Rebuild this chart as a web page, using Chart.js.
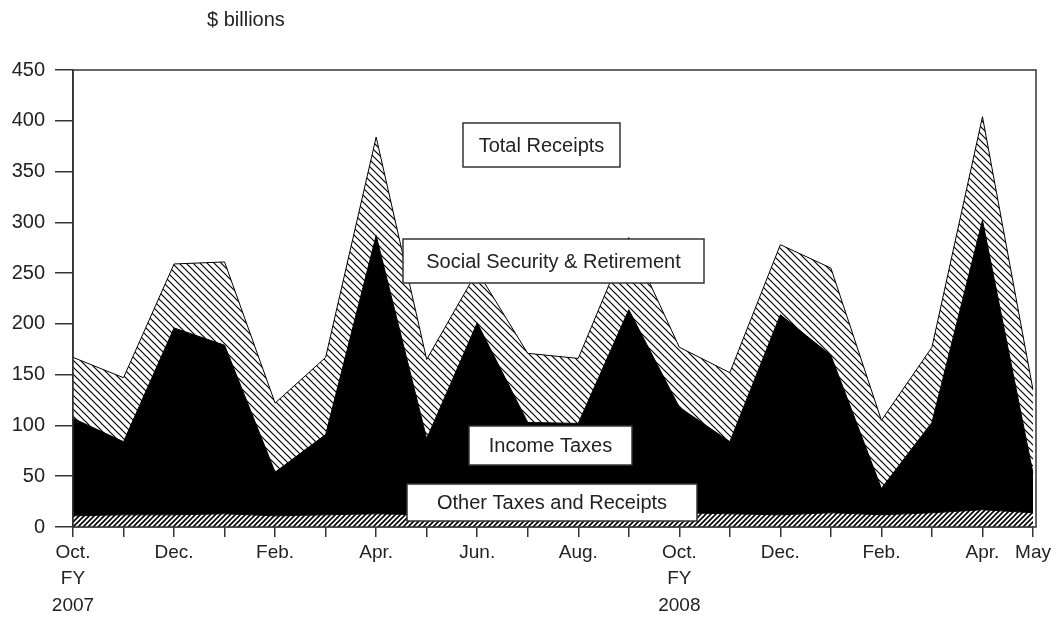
<!DOCTYPE html>
<html>
<head>
<meta charset="utf-8">
<script src="https://cdn.jsdelivr.net/npm/chart.js@4/dist/chart.umd.min.js"></script>
<style>
  html, body { margin: 0; padding: 0; background: #fff; }
  #wrap { width: 1059px; height: 618px; }
</style>
</head>
<body>
<div id="wrap"><canvas id="myChart" width="1059" height="618"></canvas></div>
<script>
// Oct 2006 (FY2007) .. May 2008, monthly
const months = ['Oct.', 'Nov.', 'Dec.', 'Jan.', 'Feb.', 'Mar.', 'Apr.', 'May', 'Jun.', 'Jul.', 'Aug.', 'Sep.',
                'Oct.', 'Nov.', 'Dec.', 'Jan.', 'Feb.', 'Mar.', 'Apr.', 'May'];
const tickLabels = [['Oct.', 'FY', '2007'], '', 'Dec.', '', 'Feb.', '', 'Apr.', '', 'Jun.', '', 'Aug.', '',
                    ['Oct.', 'FY', '2008'], '', 'Dec.', '', 'Feb.', '', 'Apr.', 'May'];
// $ billions, stacked from the bottom up
const otherTaxes = [11, 12, 12, 13, 11, 12, 13, 12, 13, 13, 13, 13, 14, 13, 12, 14, 12, 14, 17, 14];
const incomeTaxes = [96, 72, 184, 166, 43, 79, 274, 75, 188, 90, 89, 201, 104, 71, 197, 155, 26, 89, 285, 39];
const socialSecurity = [60, 63, 63, 82, 68, 76, 97, 78, 51, 68, 64, 71, 59, 68, 69, 86, 67, 74, 102, 82];
const yTicks = [0, 50, 100, 150, 200, 250, 300, 350, 400, 450];

function hatch(size, dir, width) {
    const c = document.createElement('canvas');
    c.width = size; c.height = size;
    const g = c.getContext('2d');
    g.fillStyle = '#fff';
    g.fillRect(0, 0, size, size);
    g.strokeStyle = '#000';
    g.lineWidth = width;
    g.beginPath();
    if (dir === 'back') {
        g.moveTo(-1, -1); g.lineTo(size + 1, size + 1);
        g.moveTo(-1, size - 1); g.lineTo(1, size + 1);
        g.moveTo(size - 1, -1); g.lineTo(size + 1, 1);
    } else {
        g.moveTo(-1, size + 1); g.lineTo(size + 1, -1);
        g.moveTo(-1, 1); g.lineTo(1, -1);
        g.moveTo(size - 1, size + 1); g.lineTo(size + 1, size - 1);
    }
    g.stroke();
    return g.createPattern(c, 'repeat');
}

const font = 'Liberation Sans, Arial, sans-serif';
const boxes = [
    { text: 'Total Receipts', x: 463, y: 123, w: 157, h: 44 },
    { text: 'Social Security & Retirement', x: 403, y: 239, w: 301, h: 44 },
    { text: 'Income Taxes', x: 469, y: 426, w: 163, h: 39 },
    { text: 'Other Taxes and Receipts', x: 407, y: 484, w: 290, h: 37 }
];

const extras = {
    id: 'extras',
    afterDatasetsDraw(chart) {
        const g = chart.ctx;
        const a = chart.chartArea;
        g.save();
        // frame
        g.strokeStyle = '#333';
        g.lineWidth = 1.5;
        g.strokeRect(a.left, a.top, a.right - a.left + 3, a.bottom - a.top);
        // label boxes
        g.font = '20px ' + font;
        g.textAlign = 'center';
        g.textBaseline = 'middle';
        boxes.forEach(b => {
            g.fillStyle = '#fff';
            g.fillRect(b.x, b.y, b.w, b.h);
            g.strokeStyle = '#333';
            g.lineWidth = 1.5;
            g.strokeRect(b.x, b.y, b.w, b.h);
            g.fillStyle = '#222';
            g.fillText(b.text, b.x + b.w / 2, b.y + b.h / 2 + 1);
        });
        g.font = '20px ' + font;
        g.textAlign = 'left';
        g.fillText('$ billions', 207, 20);
        g.restore();
    }
};

const ctx = document.getElementById('myChart').getContext('2d');
const myChart = new Chart(ctx, {
    type: 'line',
    data: {
        labels: months,
        datasets: [{
            label: 'Other Taxes and Receipts',
            data: otherTaxes,
            backgroundColor: hatch(5, 'fwd', 1.6),
            borderColor: '#000',
            borderWidth: 1,
            fill: 'origin'
        }, {
            label: 'Income Taxes',
            data: incomeTaxes,
            backgroundColor: '#000',
            borderColor: '#000',
            borderWidth: 1,
            fill: '-1'
        }, {
            label: 'Social Security & Retirement',
            data: socialSecurity,
            backgroundColor: hatch(7, 'back', 1.2),
            borderColor: '#000',
            borderWidth: 1,
            fill: '-1'
        }]
    },
    options: {
        responsive: false,
        animation: false,
        layout: { padding: { top: 70, right: 26, left: 0, bottom: 0 } },
        elements: { point: { radius: 0 }, line: { tension: 0 } },
        plugins: { legend: { display: false }, tooltip: { enabled: false } },
        scales: {
            x: {
                offset: false,
                grid: { drawOnChartArea: false, color: '#333', tickLength: 10, lineWidth: 1.5 },
                border: { color: '#333', width: 1.5 },
                ticks: {
                    autoSkip: false,
                    maxRotation: 0,
                    color: '#222',
                    padding: 2,
                    font: { family: font, size: 19, lineHeight: 1.4 },
                    callback: function(value, index) {
                        return tickLabels[index];
                    }
                },
                afterFit: function(scale) { scale.height = 91; }
            },
            y: {
                stacked: true,
                min: 0,
                max: 450,
                afterBuildTicks: function(scale) {
                    scale.ticks = yTicks.map(v => ({ value: v }));
                },
                grid: { drawOnChartArea: false, color: '#333', tickLength: 18, lineWidth: 1.5 },
                border: { color: '#333', width: 1.5 },
                ticks: {
                    color: '#222',
                    padding: 10,
                    font: { family: font, size: 20 }
                },
                afterFit: function(scale) { scale.width = 73; }
            }
        }
    },
    plugins: [extras]
});
</script>
</body>
</html>
